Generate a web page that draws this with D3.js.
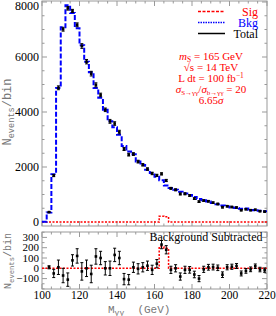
<!DOCTYPE html>
<html><head><meta charset="utf-8">
<script src="https://cdn.jsdelivr.net/npm/d3@7"></script>
<style>body{margin:0;background:#fff}svg{display:block}</style>
</head><body>
<svg id="c" width="276" height="316"></svg>
<script>
// bin edges (GeV)
const binEdges=[100,102.5,105,107.5,110,112.5,115,117.5,120,122.5,125,127.5,130,132.5,135,137.5,140,142.5,145,147.5,150,152.5,155,157.5,160,162.5,165,167.5,170,172.5,175,177.5,180,182.5,185,187.5,190,192.5,195,197.5,200,202.5,205,207.5,210,212.5,215,217.5,220];
// background expectation per bin
const bkg=[10,350,1740,4870,7080,7880,7600,7050,6430,5830,5450,4870,4520,4080,3660,3450,3170,2760,2560,2460,2200,2070,1900,1780,1650,1520,1330,1240,1170,1100,1040,980,910,840,790,745,690,650,600,565,530,505,480,490,440,425,405,395];
// signal per bin
const sig=[0,0,0,0,0,0,0,0,0,0,0,0,0,0,0,0,0,0,0,0,0,0,0,0,0,210,195,0,0,0,0,0,0,0,0,0,0,0,0,0,0,0,0,0,0,0,0,0];
// background-subtracted data per bin
const resid=[null,10,-50,10,-70,-110,77,120,-30,0,-55,115,100,0,0,130,100,-105,-110,10,-5,10,25,-15,45,230,180,-15,0,-80,-15,-15,-60,-100,-10,10,12,5,-62,10,15,22,-50,-25,-10,20,-12,-18];
// statistical errors
const err=[null,15,40,70,70,65,55,70,85,80,85,75,65,65,70,65,65,55,50,50,50,45,45,45,40,40,40,35,35,35,35,32,32,30,30,28,28,27,27,25,25,24,24,23,23,22,22,21];
const xTicks=[100,120,140,160,180,200,220];
const yTopTicks=[0,2000,4000,6000,8000];
const yBotTicks=[-100,0,100,200,300];
const legendLabels=["Sig","Bkg","Total"];

const svg=d3.select("#c");
const X0=42,X1=267;
const x=d3.scaleLinear().domain([100,220]).range([X0,X1]);
const pTop={t:1,b:226};
const pBot={t:232,b:289};
const yT=d3.scaleLinear().domain([0,8000]).range([222,2]);
const yB=d3.scaleLinear().domain([0,100]).range([268.3,258]);
const frameCol="#999";
const serif="'Liberation Serif','Times New Roman',serif";
const mono="'Liberation Mono','DejaVu Sans Mono',monospace";

function frame(p){
  svg.append("rect").attr("x",X0).attr("y",p.t).attr("width",X1-X0).attr("height",p.b-p.t)
    .attr("fill","none").attr("stroke",frameCol).attr("stroke-width",1);
}
function xTickMarks(p){
  const g=svg.append("g").attr("stroke",frameCol).attr("stroke-width",1);
  for(let v=100;v<=220;v+=5){
    const L=(v%20===0)?5:2.5;
    const px=x(v);
    g.append("line").attr("x1",px).attr("x2",px).attr("y1",p.b).attr("y2",p.b-L);
    g.append("line").attr("x1",px).attr("x2",px).attr("y1",p.t).attr("y2",p.t+L);
  }
}
function yTickMarks(scale,lo,hi,step,majors,p){
  const g=svg.append("g").attr("stroke",frameCol).attr("stroke-width",1);
  for(let v=lo;v<=hi;v+=step){
    const py=scale(v); if(py<p.t||py>p.b) continue;
    const L=majors.includes(v)?5:2.5;
    g.append("line").attr("x1",X0).attr("x2",X0+L).attr("y1",py).attr("y2",py);
    g.append("line").attr("x1",X1).attr("x2",X1-L).attr("y1",py).attr("y2",py);
  }
}
frame(pTop);frame(pBot);
xTickMarks(pTop);xTickMarks(pBot);
yTickMarks(yT,0,8000,500,yTopTicks,pTop);
yTickMarks(yB,-200,350,50,yBotTicks,pBot);

// tick labels
svg.append("g").selectAll("text").data(yTopTicks).join("text")
  .attr("x",39).attr("y",d=>Math.max(yT(d)+4,9.5)).attr("text-anchor","end")
  .attr("font-family",serif).attr("font-size",12).text(d=>d3.format("d")(d));
svg.append("g").selectAll("text").data(yBotTicks).join("text")
  .attr("x",39).attr("y",d=>yB(d)+3.5).attr("text-anchor","end")
  .attr("font-family",serif).attr("font-size",11).text(d=>d3.format("d")(d));
svg.append("g").selectAll("text").data(xTicks).join("text")
  .attr("x",d=>x(d)).attr("y",299).attr("text-anchor","middle")
  .attr("font-family",serif).attr("font-size",11.5).text(d=>d);

// axis titles
function yTitle(cx,cy,fs){
  const t=svg.append("text").attr("transform",`translate(${cx},${cy}) rotate(-90)`)
    .attr("text-anchor","middle").attr("font-family",mono).attr("font-size",fs).attr("fill","#777");
  t.append("tspan").text("N");
  t.append("tspan").attr("font-size",fs*0.72).attr("dy",fs*0.25).text("events");
  t.append("tspan").attr("dy",-fs*0.25).text("/bin");
}
yTitle(11,112,12);
yTitle(11,261,10);
{
  const t=svg.append("text").attr("x",108).attr("y",313).attr("font-family",mono).attr("font-size",11).attr("fill","#777").style("white-space","pre");
  t.append("tspan").text("M");
  t.append("tspan").attr("font-size",8).attr("dy",2).text("γγ");
  t.append("tspan").attr("dy",-2).attr("font-size",11).text("  (GeV)");
}

// histogram lines
function stepPts(vals){
  const pts=vals.map((v,i)=>[binEdges[i],v]);
  pts.push([binEdges[binEdges.length-1],vals[vals.length-1]]);
  return pts;
}
const lineT=d3.line().x(d=>x(d[0])).y(d=>yT(d[1])).curve(d3.curveStepAfter);
const lineB=d3.line().x(d=>x(d[0])).y(d=>yB(d[1])).curve(d3.curveStepAfter);

svg.append("path").attr("d",lineT(stepPts(sig))).attr("fill","none")
  .attr("stroke","#ff0000").attr("stroke-width",1.5).attr("stroke-dasharray","2,1.5");
svg.append("path").attr("d",lineT(stepPts(bkg))).attr("fill","none")
  .attr("stroke","#0000ff").attr("stroke-width",2).attr("stroke-dasharray","5,2");
svg.append("path").attr("d",lineB(stepPts(sig))).attr("fill","none")
  .attr("stroke","#ff0000").attr("stroke-width",1.5).attr("stroke-dasharray","2,1.5");

// data points
function points(scale,valFn){
  const g=svg.append("g");
  resid.forEach((r,i)=>{
    if(r===null) return;
    const cx=x((binEdges[i]+binEdges[i+1])/2);
    const v=valFn(i);
    const y1=scale(v+err[i]),y2=scale(v-err[i]),cy=scale(v);
    g.append("line").attr("x1",cx).attr("x2",cx).attr("y1",y1).attr("y2",y2).attr("stroke","#000").attr("stroke-width",1);
    g.append("line").attr("x1",cx-1.5).attr("x2",cx+1.5).attr("y1",y1).attr("y2",y1).attr("stroke","#000").attr("stroke-width",1);
    g.append("line").attr("x1",cx-1.5).attr("x2",cx+1.5).attr("y1",y2).attr("y2",y2).attr("stroke","#000").attr("stroke-width",1);
    g.append("rect").attr("x",cx-1.3).attr("y",cy-1.3).attr("width",2.6).attr("height",2.6).attr("fill","#000");
  });
}
points(yT,i=>bkg[i]+resid[i]);
points(yB,i=>resid[i]);

// legend
const legCols=["#ff0000","#0000ff","#000"];
const legDash=["3,1.5","1.5,1","none"];
legendLabels.forEach((l,i)=>{
  const ly=11.5+i*11;
  svg.append("line").attr("x1",198).attr("x2",225).attr("y1",ly).attr("y2",ly)
    .attr("stroke",legCols[i]).attr("stroke-width",1.5).attr("stroke-dasharray",legDash[i]);
  svg.append("text").attr("x",258).attr("y",ly+4).attr("text-anchor","end")
    .attr("font-family",serif).attr("font-size",12).attr("fill",legCols[i]).text(l);
});

// info text
function info(i,build){
  const t=svg.append("text").attr("x",211).attr("y",60+i*11).attr("text-anchor","middle")
    .attr("font-family",serif).attr("font-size",11).attr("fill","#ff0000");
  build(t);
}
info(0,t=>{t.append("tspan").attr("font-style","italic").text("m");
  t.append("tspan").attr("font-size",7.5).attr("dy",1.5).text("S");
  t.append("tspan").attr("dy",-1.5).text(" = 165 GeV");});
info(1,t=>{t.text("√s = 14 TeV");});
info(2,t=>{t.append("tspan").text("L dt = 100 fb");
  t.append("tspan").attr("font-size",7.5).attr("dy",-4).text("−1");});
info(3,t=>{t.append("tspan").attr("font-style","italic").text("σ");
  t.append("tspan").attr("font-size",7).attr("dy",1.5).text("S→γγ");
  t.append("tspan").attr("dy",-1.5).text("/");
  t.append("tspan").attr("font-style","italic").text("σ");
  t.append("tspan").attr("font-size",7).attr("dy",1.5).text("b→γγ");
  t.append("tspan").attr("dy",-1.5).text(" = 20");});
info(4,t=>{t.append("tspan").text("6.65");t.append("tspan").attr("font-style","italic").text("σ");});

// background subtracted label
svg.append("text").attr("x",206).attr("y",241).attr("text-anchor","middle")
  .attr("font-family",serif).attr("font-size",12).attr("fill","#000").text("Background Subtracted");
</script>
</body></html>
